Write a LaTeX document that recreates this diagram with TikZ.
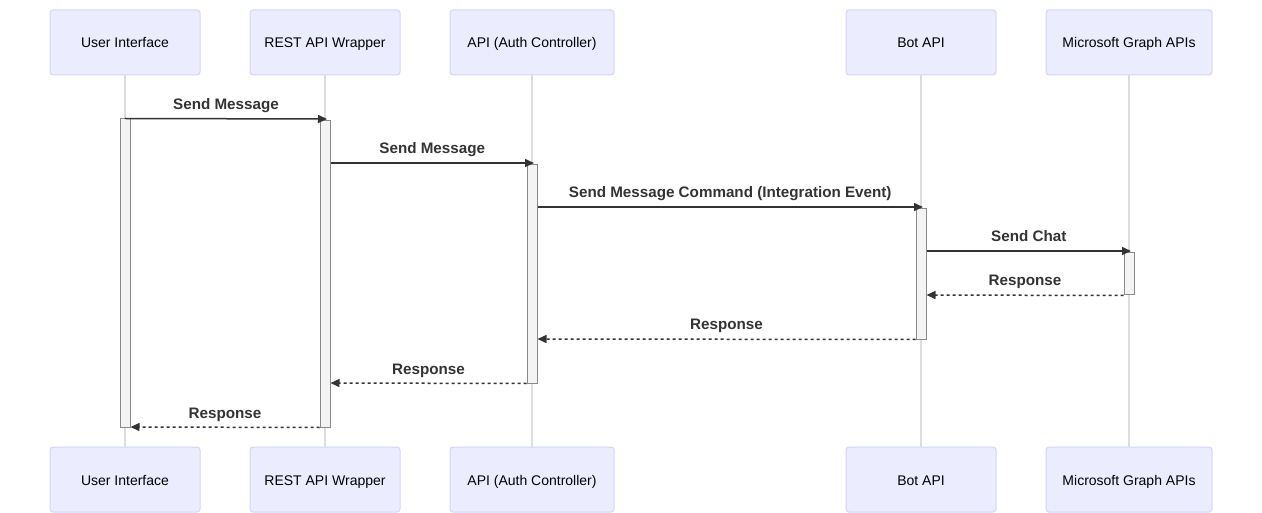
\documentclass[tikz,border=0pt]{standalone}
\usepackage{fontspec}
\setmainfont{Liberation Sans}
\usetikzlibrary{arrows.meta}
\definecolor{actfill}{HTML}{ECECFF}
\definecolor{actline}{HTML}{D4D4FA}
\definecolor{ink}{HTML}{333333}
\definecolor{barfill}{HTML}{F4F4F4}
\definecolor{barline}{HTML}{8A8A8A}
\definecolor{life}{HTML}{DDDDDD}
\tikzset{
  actor/.style={draw=actline, fill=actfill, line width=1pt, rounded corners=3pt,
    minimum height=65pt, inner sep=0pt, text height=12pt, text depth=1pt,
    font=\fontsize{14}{16}\selectfont},
  bar/.style={draw=barline, fill=barfill, minimum width=10pt, inner sep=0pt, line width=1pt},
  lifeline/.style={life, line width=1.5pt},
  msg/.style={ink, line width=1.5pt, -{Triangle[length=9pt,width=8pt]}},
  reply/.style={msg, dash pattern=on 3pt off 3pt},
  lbl/.style={text=ink, font=\bfseries\fontsize{15.2}{18}\selectfont, inner sep=0pt,
    text height=11pt, text depth=3.5pt, above=5pt, midway}
}
\begin{document}
\begin{tikzpicture}[x=1pt,y=-1pt]
  \useasboundingbox (0,0) rectangle (1262,513);
  % participants, top and bottom
  \node [actor, minimum width=150pt] (ui)  at (125,42.5)  {User Interface};
  \node [actor, minimum width=150pt] (rest) at (325,42.5) {REST API Wrapper};
  \node [actor, minimum width=164pt] (api) at (532,42.5)  {API (Auth Controller)};
  \node [actor, minimum width=150pt] (bot) at (921,42.5)  {Bot API};
  \node [actor, minimum width=166pt] (ms)  at (1129,42.5) {Microsoft Graph APIs};
  \node [actor, minimum width=150pt] (ui2)  at (125,479.5)  {User Interface};
  \node [actor, minimum width=150pt] (rest2) at (325,479.5) {REST API Wrapper};
  \node [actor, minimum width=164pt] (api2) at (532,479.5)  {API (Auth Controller)};
  \node [actor, minimum width=150pt] (bot2) at (921,479.5)  {Bot API};
  \node [actor, minimum width=166pt] (ms2)  at (1129,479.5) {Microsoft Graph APIs};
  % lifelines
  \draw [lifeline] (ui.south) -- (ui2.north);
  \draw [lifeline] (rest.south) -- (rest2.north);
  \draw [lifeline] (api.south) -- (api2.north);
  \draw [lifeline] (bot.south) -- (bot2.north);
  \draw [lifeline] (ms.south) -- (ms2.north);
  % activations
  \node [bar, minimum height=308pt] (uibar)   at (125,273)  {};
  \node [bar, minimum height=306pt] (restbar) at (325,274)  {};
  \node [bar, minimum height=218pt] (apibar)  at (532,274)  {};
  \node [bar, minimum height=130pt] (botbar)  at (921,274)  {};
  \node [bar, minimum height=42pt]  (msbar)   at (1129,274) {};
  % message rows
  \coordinate (m1) at (0,119);
  \coordinate (m2) at (0,163);
  \coordinate (m3) at (0,207);
  \coordinate (m4) at (0,251);
  \coordinate (m5) at (0,295);
  \coordinate (m6) at (0,339);
  \coordinate (m7) at (0,383);
  \coordinate (m8) at (0,427);
  \draw [msg] (uibar.north) -- ([xshift=2pt]rest |- m1) node [lbl] {Send Message};
  \draw [msg] (restbar.east |- m2) -- ([xshift=2pt]api |- m2) node [lbl] {Send Message};
  \draw [msg] (apibar.east |- m3) -- ([xshift=2pt]bot |- m3)
    node [lbl] {Send Message Command (Integration Event)};
  \draw [msg] (botbar.east |- m4) -- ([xshift=2pt]ms |- m4) node [lbl] {Send Chat};
  \draw [reply] (msbar.south west) -- (botbar.east |- m5) node [lbl] {Response};
  \draw [reply] (botbar.south west) -- (apibar.east |- m6) node [lbl] {Response};
  \draw [reply] (apibar.south west) -- (restbar.east |- m7) node [lbl] {Response};
  \draw [reply] (restbar.south west) -- (uibar.east |- m8) node [lbl] {Response};
\end{tikzpicture}
\end{document}
